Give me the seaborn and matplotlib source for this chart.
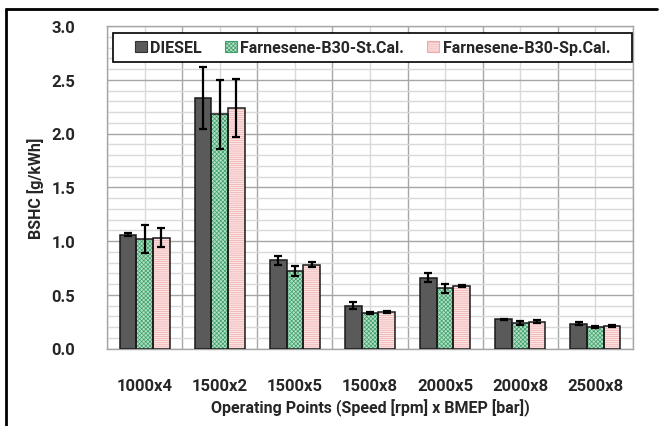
import numpy as np
import pandas as pd
import matplotlib
matplotlib.use("Agg")
import matplotlib.pyplot as plt
from matplotlib.patches import Rectangle
from matplotlib.lines import Line2D
import seaborn as sns

points = ["1000x4", "1500x2", "1500x5", "1500x8", "2000x5", "2000x8", "2500x8"]
fuels = ["DIESEL", "Farnesene-B30-St.Cal.", "Farnesene-B30-Sp.Cal."]

diesel = [1.06, 2.33, 0.82, 0.40, 0.66, 0.27, 0.23]
diesel_err = [0.012, 0.29, 0.04, 0.035, 0.045, 0.008, 0.012]
st_cal = [1.02, 2.18, 0.72, 0.33, 0.56, 0.24, 0.20]
st_cal_err = [0.13, 0.32, 0.045, 0.01, 0.04, 0.02, 0.012]
sp_cal = [1.03, 2.24, 0.78, 0.34, 0.58, 0.25, 0.21]
sp_cal_err = [0.09, 0.27, 0.026, 0.006, 0.012, 0.017, 0.01]

df = pd.DataFrame({
    "point": points * 3,
    "fuel": [f for f in fuels for _ in points],
    "bshc": diesel + st_cal + sp_cal,
    "err": diesel_err + st_cal_err + sp_cal_err,
})

sns.set_theme(style="white")
plt.rcParams["font.family"] = ["Roboto", "DejaVu Sans"]
plt.rcParams["hatch.linewidth"] = 0.5

fig = plt.figure(figsize=(6.59, 4.27), dpi=100)
ax = fig.add_axes([107 / 659, 77.5 / 427, 526 / 659, 322.5 / 427])

fills = {"DIESEL": "#5a5a5a", "Farnesene-B30-St.Cal.": "#b2e0c4", "Farnesene-B30-Sp.Cal.": "#fbe6e6"}
hatches = {"DIESEL": None, "Farnesene-B30-St.Cal.": "xxxxxxxx", "Farnesene-B30-Sp.Cal.": "--------"}
hatch_cols = {"DIESEL": "#5a5a5a", "Farnesene-B30-St.Cal.": "#3f9e6a", "Farnesene-B30-Sp.Cal.": "#f0a8a8"}

sns.barplot(data=df, x="point", y="bshc", hue="fuel", order=points, hue_order=fuels,
            palette=fills, width=0.667, errorbar=None, legend=False, ax=ax, zorder=3)

handles = []
for fuel, cont in zip(fuels, ax.containers):
    errs = df.loc[df.fuel == fuel, "err"].values
    xs, ys = [], []
    for bar in cont:
        bar.set_facecolor(fills[fuel])
        if hatches[fuel]:
            bar.set_hatch(hatches[fuel])
        bar.set_edgecolor(hatch_cols[fuel])
        bar.set_linewidth(0)
        x0, y0 = bar.get_xy()
        ax.add_patch(Rectangle((x0, y0), bar.get_width(), bar.get_height(), fill=False,
                               edgecolor="#1a1a1a", linewidth=1.1, zorder=4))
        xs.append(x0 + bar.get_width() / 2)
        ys.append(bar.get_height())
    ax.errorbar(xs, ys, yerr=errs, fmt="none", ecolor="black", elinewidth=1.6,
                capsize=3, capthick=1.6, zorder=5)
    handles.append(Rectangle((0, 0), 1, 1, facecolor=fills[fuel], hatch=hatches[fuel],
                             edgecolor=hatch_cols[fuel] if hatches[fuel] else "#333333", linewidth=0.8))

ax.set_ylim(0, 3.0)
ax.set_xlim(-0.5, 6.5)
ax.set_yticks(np.arange(0, 3.01, 0.5))
ax.set_yticks(np.arange(0, 3.01, 0.1), minor=True)
ax.set_xticks(np.arange(-0.5, 7, 1), minor=True)
ax.set_yticklabels([f"{v:.1f}" for v in np.arange(0, 3.01, 0.5)])

ax.grid(axis="y", which="major", color="#a6a6a6", linewidth=1.0, zorder=0)
ax.grid(axis="y", which="minor", color="#d9d9d9", linewidth=1.0, zorder=0)
ax.grid(axis="x", which="minor", color="#a6a6a6", linewidth=1.0, zorder=0)
ax.grid(axis="x", which="major", color="#d9d9d9", linewidth=1.0, zorder=0)
ax.set_axisbelow(True)
ax.tick_params(which="both", length=0)
ax.tick_params(axis="y", pad=23, labelsize=12)
ax.tick_params(axis="x", pad=21, labelsize=12)
for lab in ax.get_xticklabels() + ax.get_yticklabels():
    lab.set_fontweight("bold")
for s in ax.spines.values():
    s.set_color("#a6a6a6")
    s.set_linewidth(1.0)

ax.set_xlabel("Operating Points (Speed [rpm] x BMEP [bar])", fontsize=11.5, fontweight="bold", labelpad=4)
ax.set_ylabel("BSHC [g/kWh]", fontsize=11.5, fontweight="bold", labelpad=5)

# legend box spans nearly the full plot width
ax.add_patch(Rectangle((0.0114, 0.888), 0.987, 0.09, transform=ax.transAxes, facecolor="white",
                       edgecolor="black", linewidth=1.2, zorder=6))
leg = ax.legend(handles, fuels, ncol=3, loc="center", bbox_to_anchor=(0.505, 0.933),
                frameon=False, fontsize=11.5, handlelength=0.75, handleheight=0.75,
                handletextpad=0.2, borderaxespad=0, borderpad=0.2, columnspacing=1.45)
leg.set_zorder(7)
for t in leg.get_texts():
    t.set_fontweight("bold")

fig.add_artist(Line2D([6 / 659, 657 / 659], [417 / 427, 417 / 427], color="black", linewidth=2))
fig.add_artist(Line2D([6 / 659, 6 / 659], [0, 417 / 427], color="black", linewidth=2))

fig.savefig("out.png", dpi=100)
